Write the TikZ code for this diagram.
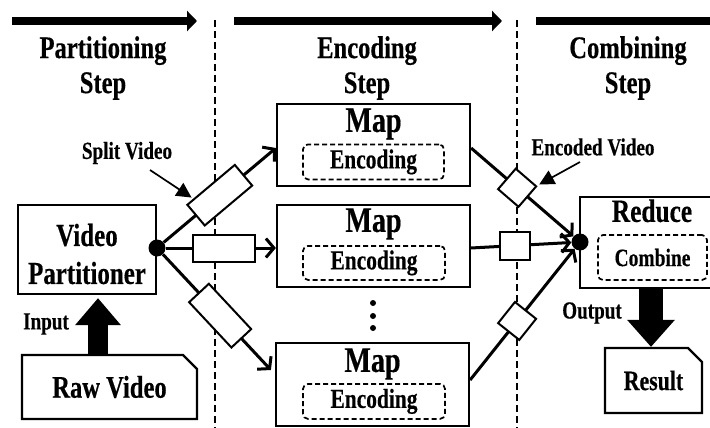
\documentclass[tikz,border=0pt]{standalone}
\usepackage{fontspec}
\setmainfont[FakeStretch=0.78, BoldFeatures={FakeBold=0.4}]{Liberation Serif}
\usetikzlibrary{arrows.meta,shapes.misc,calc}
\begin{document}
\begin{tikzpicture}[x=1pt,y=-1pt,
  box/.style={draw, line width=2.2pt, inner sep=0pt},
  dbox/.style={draw, line width=1.7pt, dash pattern=on 5pt off 3pt, rounded corners=5pt, inner sep=0pt},
  doc/.style={draw, fill=white, line width=2.2pt, chamfered rectangle, chamfered rectangle corners=north east, chamfered rectangle xsep=7pt, chamfered rectangle ysep=7pt, inner sep=0pt},
  sv/.style={draw, fill=white, line width=2pt, chamfered rectangle, chamfered rectangle corners=north east, chamfered rectangle xsep=4pt, chamfered rectangle ysep=4pt, inner sep=0pt, minimum width=62pt, minimum height=27pt},
  esq/.style={sv, minimum width=27pt, minimum height=27pt},
  esqb/.style={sv, minimum width=30pt, minimum height=28pt},
  conn/.style={line width=3pt},
  arr/.style={-{Straight Barb[length=8pt,width=19pt]}},
  ptr/.style={line width=1.7pt, -{Triangle[length=15pt,width=15pt]}},
  topar/.style={line width=8pt, -{Triangle[length=10pt,width=20pt]}},
  sep/.style={line width=1.6pt, dash pattern=on 7pt off 4pt},
  dot/.style={circle, fill, inner sep=0pt, minimum size=17pt},
  vdot/.style={circle, fill, inner sep=0pt, minimum size=6pt},
  hdr/.style={align=center, inner sep=0pt, font=\fontsize{31.5}{35}\selectfont\bfseries},
  big/.style={align=center, inner sep=0pt, font=\fontsize{32}{38}\selectfont\bfseries},
  maptxt/.style={inner sep=0pt, font=\fontsize{36}{40}\selectfont\bfseries},
  enctxt/.style={font=\fontsize{27.5}{32}\selectfont\bfseries},
  lbl/.style={inner sep=0pt, font=\fontsize{24.5}{29}\selectfont\bfseries}
]
\useasboundingbox (0,0) rectangle (710,428);
\fill[white] (0,0) rectangle (710,428);

% top arrows
\coordinate (a1s) at (12,21); \coordinate (a1e) at (197,21);
\coordinate (a2s) at (234,21); \coordinate (a2e) at (502,21);
\coordinate (a3s) at (536,21); \coordinate (a3e) at (716,21);
\draw[topar] (a1s) -- (a1e);
\draw[topar] (a2s) -- (a2e);
\draw[line width=8pt] (a3s) -- (a3e);

% separators
\coordinate (s1t) at (215,20); \coordinate (s1b) at (215,430);
\coordinate (s2t) at (517,20); \coordinate (s2b) at (517,430);
\draw[sep] (s1t) -- (s1b);
\draw[sep] (s2t) -- (s2b);

% headers
\node[hdr] (h1) at (103,68) {Partitioning\\Step};
\node[hdr] (h2) at (367,68) {Encoding\\Step};
\node[hdr] (h3) at (628,68) {Combining\\Step};

% video partitioner
\node[box, fill=white, minimum width=138pt, minimum height=89pt] (vp) at (87,249.5) {};
\node[big] (vpt) at (87,254) {Video\\Partitioner};

% raw video
\node[doc, minimum width=175pt, minimum height=64pt, font=\fontsize{31.5}{36}\selectfont\bfseries] (raw) at (109.5,387) {Raw Video};
\draw[line width=20pt, -{Triangle[length=27pt,width=44pt]}, shorten >=3pt] ([xshift=-11.5pt]raw.north) -- ([xshift=11pt]vp.south);
\node[lbl] (lin) at (46,324) {Input};

% map boxes
\node[box, minimum width=193pt, minimum height=82pt] (m1) at (373.5,145) {};
\node[box, minimum width=193pt, minimum height=82pt] (m2) at (373.5,246) {};
\node[box, minimum width=193pt, minimum height=83pt] (m3) at (372.5,384.5) {};
\node[maptxt, anchor=base] (mt1) at ([yshift=-29pt]m1.north) {Map};
\node[maptxt, anchor=base] (mt2) at ([yshift=-28pt]m2.north) {Map};
\node[maptxt, anchor=base] (mt3) at ([yshift=-30pt]m3.north) {Map};
\node[dbox, enctxt, minimum width=141pt, minimum height=35pt] (e1) at ([yshift=-59pt]m1.north) {Encoding};
\node[dbox, enctxt, minimum width=142pt, minimum height=34pt] (e2) at ([xshift=0.5pt,yshift=-59pt]m2.north) {Encoding};
\node[dbox, enctxt, minimum width=142pt, minimum height=35pt] (e3) at ([xshift=1.5pt,yshift=-59.5pt]m3.north) {Encoding};

% vertical dots
\node[vdot] (v1) at (373,303) {};
\node[vdot] (v2) at (373,316) {};
\node[vdot] (v3) at (373,328) {};

% reduce
\node[box, minimum width=134pt, minimum height=91pt] (rd) at (647,242.5) {};
\node[maptxt, anchor=base, font=\fontsize{32.5}{36}\selectfont\bfseries] (rdt) at ([xshift=5pt,yshift=-26pt]rd.north) {Reduce};
\node[dbox, font=\fontsize{25}{30}\selectfont\bfseries, minimum width=109pt, minimum height=45pt] (cb) at (652.5,257.5) {Combine};

% result
\node[doc, minimum width=97pt, minimum height=65pt, font=\fontsize{28}{33}\selectfont\bfseries] (res) at (653.5,380.5) {Result};
\draw[line width=24pt, -{Triangle[length=27pt,width=46pt]}] ([xshift=4pt]rd.south) -- ([xshift=-2.5pt]res.north);
\node[lbl] (lout) at (592,313) {Output};

% dots
\node[dot] (d1) at (157,248) {};
\node[dot] (dm) at (580,242) {};

% split connectors
\draw[conn, arr] (d1) -- ([yshift=-3pt]m1.west) node[sv, pos=0.5, sloped] (sv1) {};
\draw[conn, arr] (d1) -- ([yshift=-2pt]m2.west) node[sv, pos=0.53] (sv2) {};
\draw[conn, arr] (d1) -- ([xshift=-4pt,yshift=14.5pt]m3.west) node[sv, pos=0.53, sloped] (sv3) {};

% merge connectors
\draw[conn, arr] ([yshift=-3pt]m1.east) -- (dm) node[esq, pos=0.45, sloped] (ev1) {};
\draw[conn, arr] ([yshift=-2pt]m2.east) -- (dm) node[esqb, pos=0.44] (ev2) {};
\draw[conn, arr] ([yshift=4.5pt]m3.east) -- (dm) node[esq, pos=0.45, sloped] (ev3) {};

% labels with pointers
\node[lbl] (lsv) at (127,153) {Split Video};
\coordinate (ps) at (150,170);
\draw[ptr, shorten >=2pt] (ps) -- ($(sv1.north west)!0.15!(sv1.north east)$);
\node[lbl] (lev) at (593,147) {Encoded Video};
\coordinate (pe) at (580,162);
\draw[ptr, shorten >=3pt] (pe) -- (ev1.north east);
\end{tikzpicture}
\end{document}
